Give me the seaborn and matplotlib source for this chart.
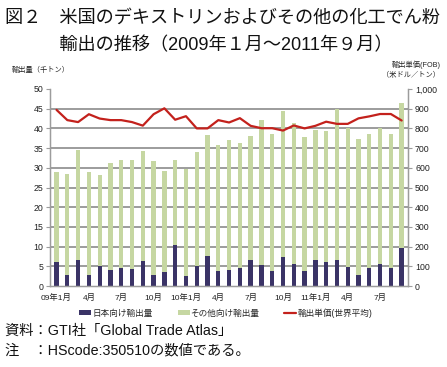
import numpy as np
import pandas as pd
import matplotlib
matplotlib.use("Agg")
import matplotlib.pyplot as plt
import seaborn as sns
from matplotlib.patches import Patch
from matplotlib.lines import Line2D

# ---- data ----
months = [f"{y}-{m:02d}" for y in (2009, 2010, 2011) for m in range(1, 13)][:33]
tick_labels = ["09年1月", "4月", "7月", "10月", "10年1月", "4月", "7月", "10月",
               "11年1月", "4月", "7月"]
japan = [6.1, 2.8, 6.6, 2.7, 5.2, 4.1, 4.6, 4.4, 6.4, 2.8, 3.6, 10.5, 2.5, 5.0,
         7.5, 3.8, 4.1, 4.6, 6.7, 5.3, 3.9, 7.3, 5.5, 3.7, 6.6, 6.1, 6.6, 4.8,
         2.7, 4.6, 5.6, 4.6, 9.7]
total = [29.0, 28.4, 34.4, 28.9, 28.2, 31.1, 32.1, 32.0, 34.3, 31.6, 29.1, 32.0,
         29.7, 34.0, 38.3, 35.9, 37.1, 36.4, 38.1, 42.2, 38.6, 44.5, 41.3, 37.9,
         39.5, 39.4, 44.9, 40.2, 37.4, 38.7, 40.1, 38.5, 46.4]
other = [round(t - j, 1) for t, j in zip(total, japan)]
price = [894, 842, 832, 872, 850, 842, 842, 832, 814, 872, 902, 844, 862, 800,
         800, 842, 830, 852, 813, 801, 801, 789, 815, 800, 813, 834, 823, 823,
         851, 861, 873, 873, 840]

df = pd.DataFrame({"month": months, "japan": japan, "other": other, "price": price})
df["stack"] = df["japan"] + df["other"]
df["idx"] = np.arange(len(df))

NAVY = "#3a3366"
GREEN = "#c6d7a2"
RED = "#c3211c"
GRID = "#9c9c9c"
TXT = "#222222"

sns.set_style("white")
plt.rcParams["font.family"] = ["Liberation Sans", "Noto Sans CJK JP", "DejaVu Sans"]

fig = plt.figure(figsize=(4.47, 3.67), dpi=100)
ax = fig.add_axes([0.112, 0.2207, 0.801, 0.5368])
ax.set_axisbelow(True)

sns.barplot(data=df, x="month", y="stack", color=GREEN, width=0.40,
            saturation=1, ax=ax, linewidth=0)
sns.barplot(data=df, x="month", y="japan", color=NAVY, width=0.40,
            saturation=1, ax=ax, linewidth=0)

ax.set_ylim(0, 50)
ax.set_xlim(-0.6, len(df) - 0.4)
ax.set_yticks(range(0, 51, 5))
ax.set_yticklabels([str(v) for v in range(0, 51, 5)], fontsize=6.3, color=TXT)
ax.set_xticks([0, 3, 6, 9, 12, 15, 18, 21, 24, 27, 30])
ax.set_xticklabels(tick_labels, fontsize=6.0, color=TXT)
ax.set_xticks(np.arange(-0.5, len(df), 1), minor=True)
ax.tick_params(axis="x", which="major", length=0, pad=6)
ax.tick_params(axis="x", which="minor", length=3, width=0.8, color=GRID)
ax.tick_params(axis="y", length=3, width=0.8, color=GRID, pad=2)
ax.yaxis.grid(True, which="major", color=GRID, lw=1.4)
ax.xaxis.grid(False)
gl = ax.yaxis.get_gridlines()
gl[0].set_visible(False)
gl[-1].set_visible(False)
ax.set_xlabel("")
ax.set_ylabel("")
ax.spines["top"].set_visible(False)
for s in ["left", "bottom", "right"]:
    ax.spines[s].set_color(GRID)
    ax.spines[s].set_linewidth(1.0)

ax2 = ax.twinx()
sns.lineplot(x=df["idx"], y=df["price"], color=RED, lw=1.6, ax=ax2, zorder=5)
ax2.set_ylim(0, 1000)
ax2.set_xlim(-0.6, len(df) - 0.4)
ax2.set_yticks(range(0, 1001, 100))
ax2.set_yticklabels([f"{v:,}" for v in range(0, 1001, 100)], fontsize=6.3, color=TXT)
ax2.tick_params(axis="y", length=3, width=0.8, color=GRID, pad=2)
ax2.grid(False)
ax2.set_ylabel("")
ax2.set_xlabel("")
ax2.spines["top"].set_visible(False)
for s in ["left", "bottom", "right"]:
    ax2.spines[s].set_color(GRID)

# titles and texts
fig.text(0.012, 0.951, "図２　米国のデキストリンおよびその他の化工でん粉", fontsize=13.1,
         va="center", ha="left", color="#111111")
fig.text(0.012, 0.877, "　　　輸出の推移（2009年１月～2011年９月）", fontsize=13.1,
         va="center", ha="left", color="#111111")
fig.text(0.027, 0.808, "輸出量（千トン）", fontsize=5.2, va="center", ha="left", color=TXT)
fig.text(0.985, 0.823, "輸出単価(FOB)", fontsize=5.2, va="center", ha="right", color=TXT)
fig.text(0.985, 0.795, "（米ドル／トン）", fontsize=5.2, va="center", ha="right", color=TXT)

handles = [Patch(facecolor=NAVY, edgecolor="none"),
           Patch(facecolor=GREEN, edgecolor="none"),
           Line2D([0], [0], color=RED, lw=1.6)]
labels = ["日本向け輸出量", "その他向け輸出量", "輸出単価(世界平均)"]
fig.legend(handles, labels, loc="center", bbox_to_anchor=(0.505, 0.147), ncol=3,
           frameon=False, fontsize=6.2, handlelength=1.4, handleheight=0.55,
           handletextpad=0.1, columnspacing=2.9)

fig.text(0.012, 0.098, "資料：GTI社「Global Trade Atlas」", fontsize=10.3,
         va="center", ha="left", color="#111111")
fig.text(0.012, 0.044, "注　：HScode:350510の数値である。", fontsize=10.3,
         va="center", ha="left", color="#111111")

fig.savefig("out.png", dpi=100)
